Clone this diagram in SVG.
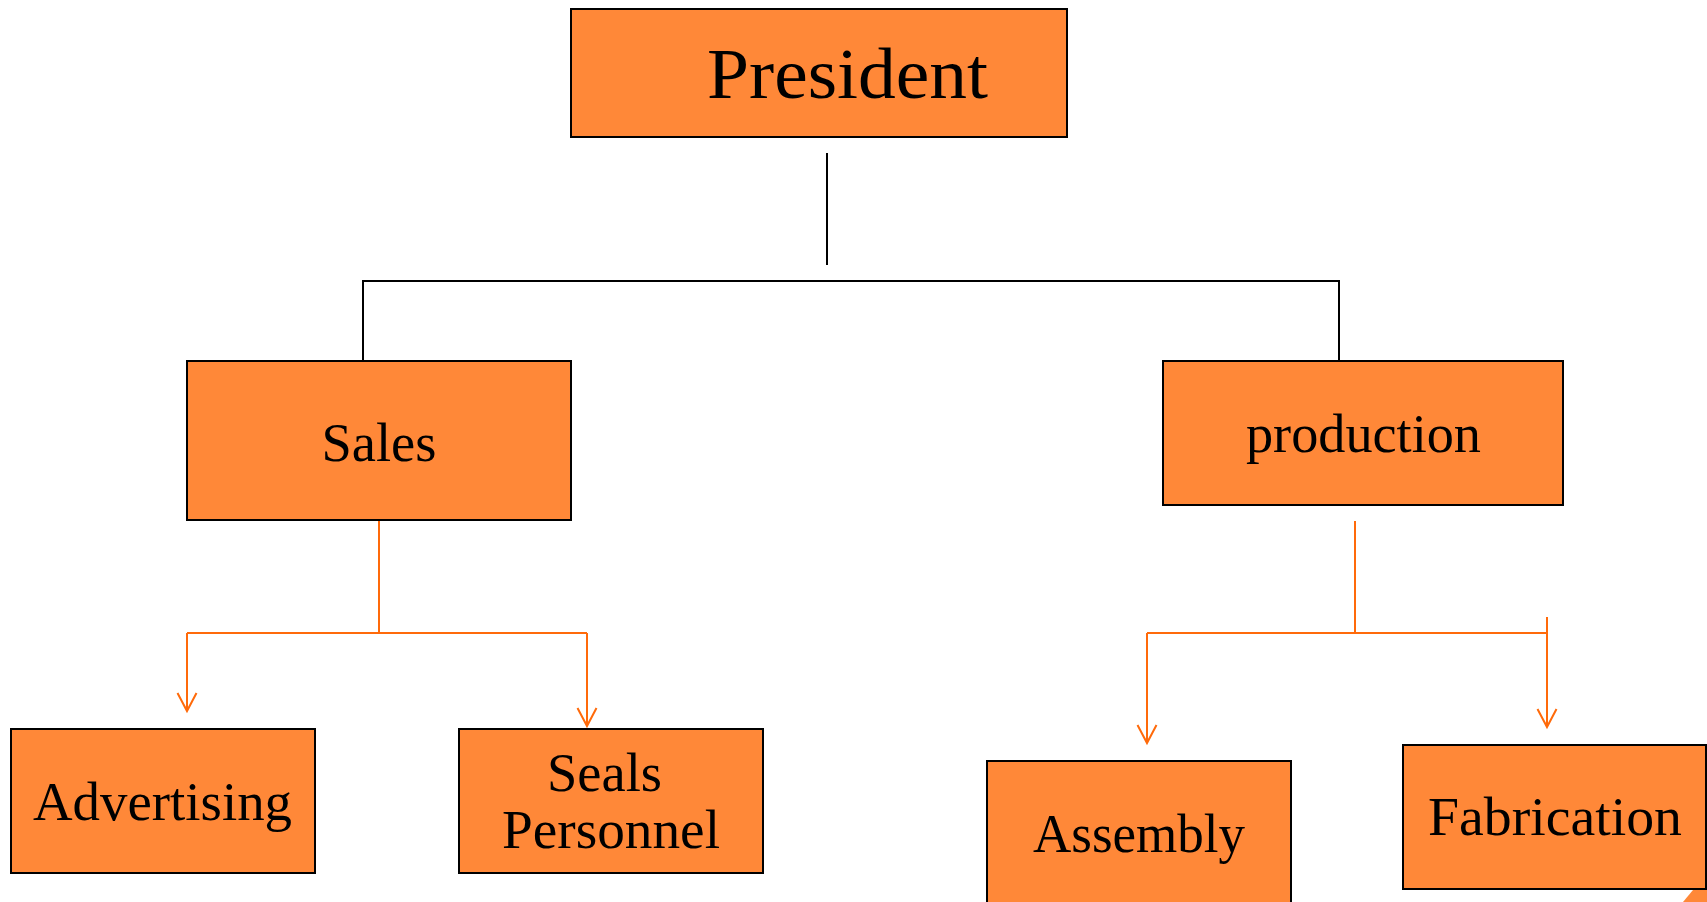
<svg xmlns="http://www.w3.org/2000/svg" width="1707" height="902" viewBox="0 0 1707 902">
<style>
.box{fill:#FF8838;stroke:#000;stroke-width:2}
.lbl{font-family:"Liberation Serif","Times New Roman",serif;fill:#000;text-anchor:middle}
.blk{stroke:#000;stroke-width:2;fill:none}
.org{stroke:#FF6A0A;stroke-width:2;fill:none}
</style>
<defs>
<marker id="arr" markerUnits="userSpaceOnUse" markerWidth="20" markerHeight="20" orient="auto" refX="0" refY="0" overflow="visible">
<path d="M-18,-9.5 L0,0 L-18,9.5" fill="none" stroke="#FF6A0A" stroke-width="2"/>
</marker>
</defs>
<rect width="1707" height="902" fill="#fff"/>
<g id="connectors">
<line class="blk" x1="827" y1="153" x2="827" y2="265"/>
<polyline class="blk" points="363,361 363,281 1339,281 1339,361"/>
<line class="org" x1="379" y1="520" x2="379" y2="633"/>
<line class="org" x1="187" y1="633" x2="587" y2="633"/>
<line class="org" x1="187" y1="633" x2="187" y2="711" marker-end="url(#arr)"/>
<line class="org" x1="587" y1="633" x2="587" y2="726" marker-end="url(#arr)"/>
<line class="org" x1="1355" y1="521" x2="1355" y2="633"/>
<line class="org" x1="1147" y1="633" x2="1547" y2="633"/>
<line class="org" x1="1147" y1="633" x2="1147" y2="743" marker-end="url(#arr)"/>
<line class="org" x1="1547" y1="617" x2="1547" y2="727" marker-end="url(#arr)"/>
</g>
<g id="president">
<rect class="box" x="571" y="9" width="496" height="128"/>
<text class="lbl" x="847.5" y="98" font-size="72" textLength="281" lengthAdjust="spacingAndGlyphs">President</text>
</g>
<g id="sales">
<rect class="box" x="187" y="361" width="384" height="159"/>
<text class="lbl" x="379" y="461" font-size="55" textLength="115" lengthAdjust="spacingAndGlyphs">Sales</text>
</g>
<g id="production">
<rect class="box" x="1163" y="361" width="400" height="144"/>
<text class="lbl" x="1363.5" y="452" font-size="55" textLength="235" lengthAdjust="spacingAndGlyphs">production</text>
</g>
<g id="advertising">
<rect class="box" x="11" y="729" width="304" height="144"/>
<text class="lbl" x="162.5" y="820" font-size="55" textLength="259" lengthAdjust="spacingAndGlyphs">Advertising</text>
</g>
<g id="seals-personnel">
<rect class="box" x="459" y="729" width="304" height="144"/>
<text class="lbl" x="604.5" y="791" font-size="55" textLength="115" lengthAdjust="spacingAndGlyphs">Seals</text>
<text class="lbl" x="611" y="848" font-size="55" textLength="218" lengthAdjust="spacingAndGlyphs">Personnel</text>
</g>
<g id="assembly">
<rect class="box" x="987" y="761" width="304" height="160"/>
<text class="lbl" x="1139" y="852" font-size="55" textLength="212" lengthAdjust="spacingAndGlyphs">Assembly</text>
</g>
<g id="fabrication">
<rect class="box" x="1403" y="745" width="303" height="144"/>
<text class="lbl" x="1555" y="835" font-size="55" textLength="254" lengthAdjust="spacingAndGlyphs">Fabrication</text>
</g>
<polygon points="1683,902 1693,890 1707,890 1707,902" fill="#FF8838"/>
</svg>
